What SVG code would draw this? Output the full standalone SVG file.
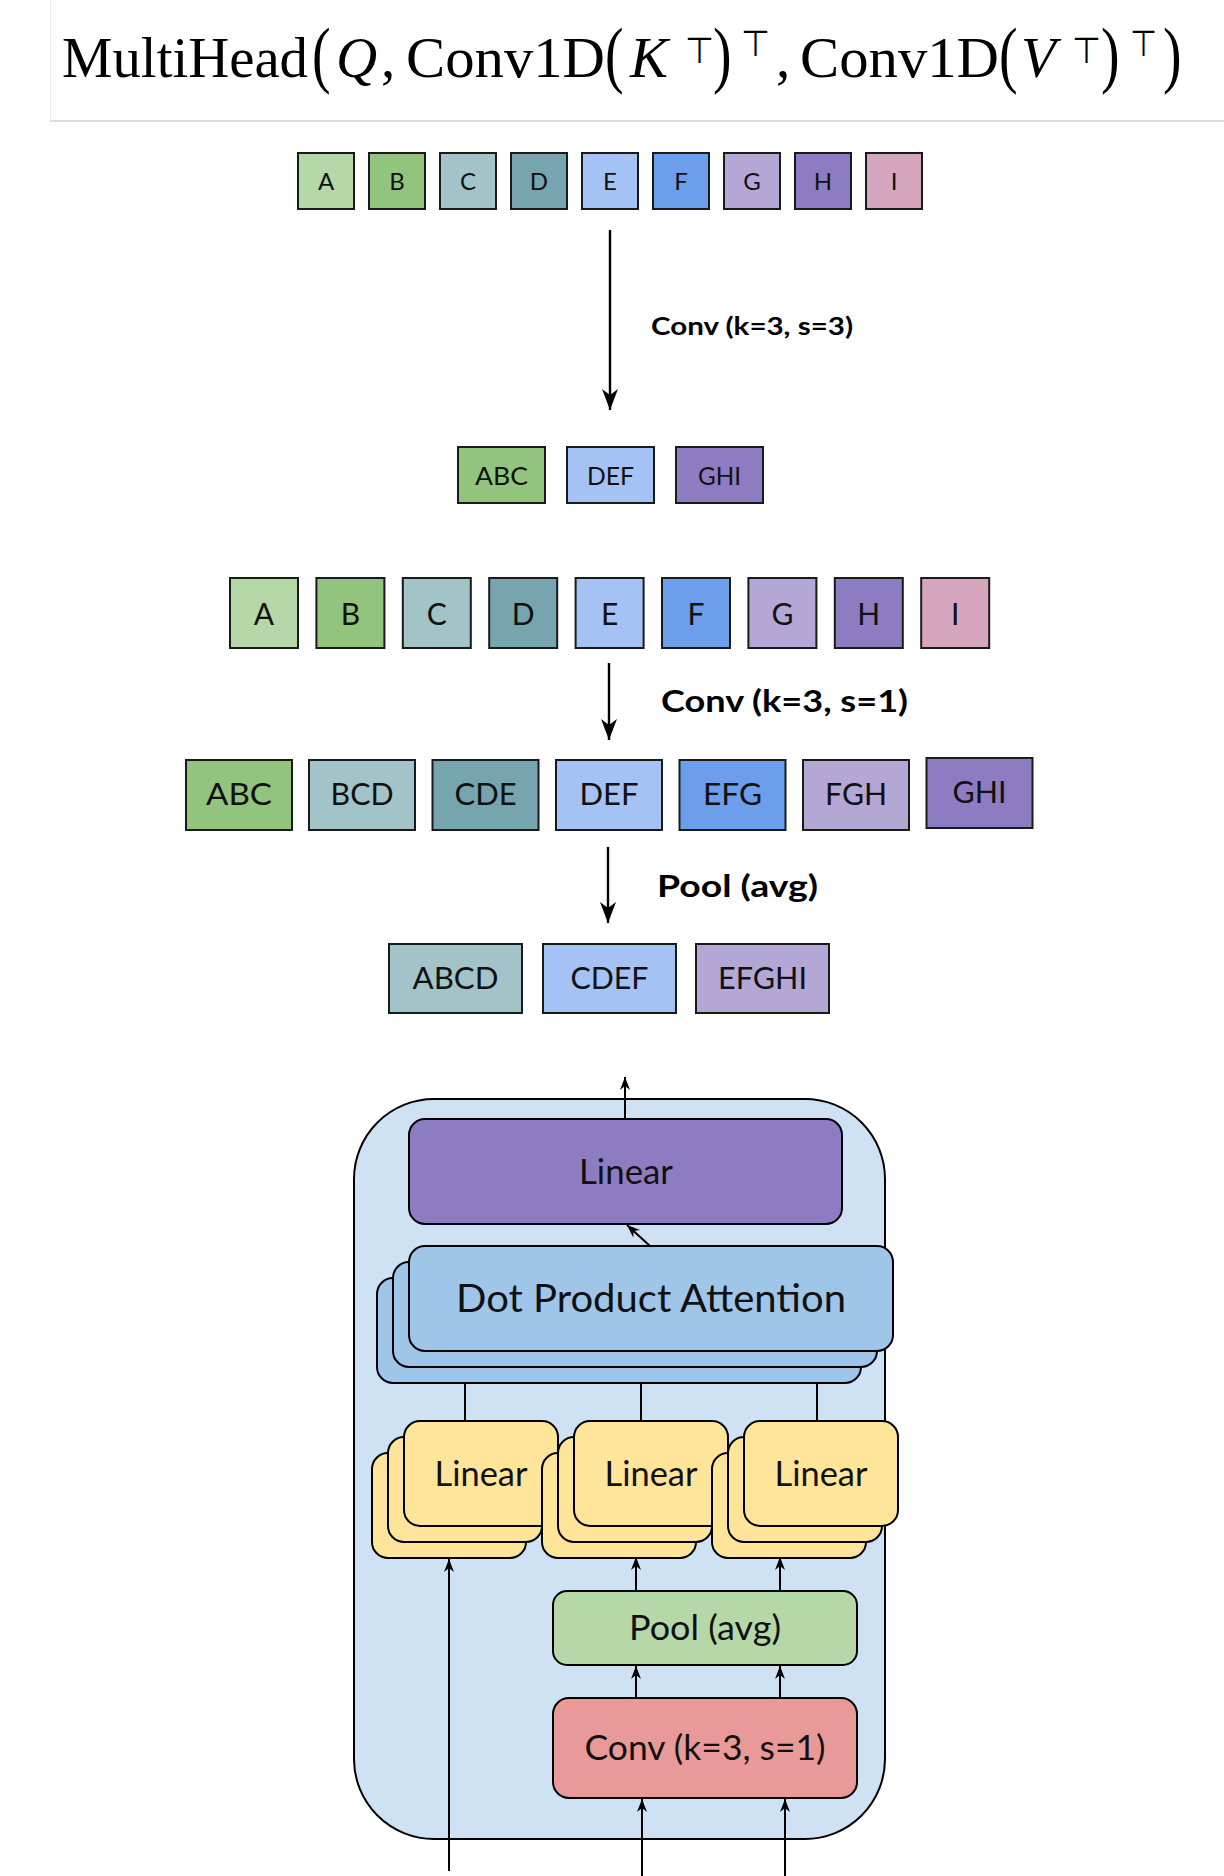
<svg xmlns="http://www.w3.org/2000/svg" width="1224" height="1876" viewBox="0 0 1224 1876">
  <style>
    .math { font-family: "Liberation Serif", "Times New Roman", serif; font-size: 57px; fill: #000; }
    .mi { font-style: italic; }
    .par { font-size: 62px; }
    .top { font-family: "DejaVu Sans", sans-serif; font-size: 36px; }
    .cell { stroke: #1a1a1a; stroke-width: 2; }
    .lbl { font-family: Lato, "Noto Sans", sans-serif; fill: #111; text-anchor: middle; }
    .op { font-family: Lato, "Noto Sans", sans-serif; font-weight: bold; fill: #000; }
    .blk { stroke: #000; stroke-width: 2; }
    .wire { stroke: #000; stroke-width: 2; fill: none; }
    .bigwire { stroke: #000; stroke-width: 2.4; fill: none; }
  </style>
  <defs>
    <marker id="headBig" markerUnits="userSpaceOnUse" markerWidth="26" markerHeight="20" viewBox="-23 -10 26 20" refX="0" refY="0" orient="auto">
      <path d="M0,0 L-21,-8 L-15,0 L-21,8 Z" fill="#000"/>
    </marker>
    <marker id="headSmall" markerUnits="userSpaceOnUse" markerWidth="16" markerHeight="12" viewBox="-15 -6 16 12" refX="0" refY="0" orient="auto">
      <path d="M0,0 L-13,-5 L-9,0 L-13,5 Z" fill="#000"/>
    </marker>
  </defs>

  <rect width="1224" height="1876" fill="#fff"/>

  <!-- formula header -->
  <g id="formula">
    <line x1="50.5" y1="0" x2="50.5" y2="121" stroke="#ececec" stroke-width="1"/>
    <line x1="50" y1="121" x2="1224" y2="121" stroke="#bdbdbd" stroke-width="1.2"/>
    <text class="math" x="62" y="77" textLength="246" lengthAdjust="spacingAndGlyphs">MultiHead</text>
    <text class="math par" transform="translate(312,79) scale(0.9,1.2)">(</text>
    <text class="math mi" x="336" y="77">Q</text>
    <text class="math" x="381" y="77">,</text>
    <text class="math" x="406" y="77" textLength="199" lengthAdjust="spacingAndGlyphs">Conv1D</text>
    <text class="math par" transform="translate(605,79) scale(0.9,1.2)">(</text>
    <text class="math mi" x="630" y="77">K</text>
    <text class="top" x="685" y="63" textLength="29" lengthAdjust="spacingAndGlyphs">⊤</text>
    <text class="math par" transform="translate(713,79) scale(0.9,1.2)">)</text>
    <text class="top" x="741" y="56" textLength="29" lengthAdjust="spacingAndGlyphs">⊤</text>
    <text class="math" x="776" y="77">,</text>
    <text class="math" x="800" y="77" textLength="199" lengthAdjust="spacingAndGlyphs">Conv1D</text>
    <text class="math par" transform="translate(999,79) scale(0.9,1.2)">(</text>
    <text class="math mi" x="1021" y="77">V</text>
    <text class="top" x="1072" y="63" textLength="29" lengthAdjust="spacingAndGlyphs">⊤</text>
    <text class="math par" transform="translate(1101,79) scale(0.9,1.2)">)</text>
    <text class="top" x="1130" y="56" textLength="27" lengthAdjust="spacingAndGlyphs">⊤</text>
    <text class="math par" transform="translate(1163,79) scale(0.9,1.2)">)</text>
  </g>

  <!-- strided convolution example -->
  <g id="seq1">
    <rect class="cell" x="298" y="153" width="56" height="56" fill="#b6d7a8" stroke-width="1.6"/>
    <rect class="cell" x="369" y="153" width="56" height="56" fill="#93c47d" stroke-width="1.6"/>
    <rect class="cell" x="440" y="153" width="56" height="56" fill="#a2c4c9" stroke-width="1.6"/>
    <rect class="cell" x="511" y="153" width="56" height="56" fill="#76a5af" stroke-width="1.6"/>
    <rect class="cell" x="582" y="153" width="56" height="56" fill="#a4c2f4" stroke-width="1.6"/>
    <rect class="cell" x="653" y="153" width="56" height="56" fill="#6d9eeb" stroke-width="1.6"/>
    <rect class="cell" x="724" y="153" width="56" height="56" fill="#b4a7d6" stroke-width="1.6"/>
    <rect class="cell" x="795" y="153" width="56" height="56" fill="#8e7cc3" stroke-width="1.6"/>
    <rect class="cell" x="866" y="153" width="56" height="56" fill="#d5a6bd" stroke-width="1.6"/>
    <g class="lbl" font-size="24">
      <text x="326" y="190">A</text>
      <text x="397" y="190">B</text>
      <text x="468" y="190">C</text>
      <text x="539" y="190">D</text>
      <text x="610" y="190">E</text>
      <text x="681" y="190">F</text>
      <text x="752" y="190">G</text>
      <text x="823" y="190">H</text>
      <text x="894" y="190">I</text>
    </g>
  </g>

  <g id="seq1out">
    <rect class="cell" x="458" y="447" width="87" height="56" fill="#93c47d" stroke-width="1.6"/>
    <rect class="cell" x="567" y="447" width="87" height="56" fill="#a4c2f4" stroke-width="1.6"/>
    <rect class="cell" x="676" y="447" width="87" height="56" fill="#8e7cc3" stroke-width="1.6"/>
    <g class="lbl" font-size="25">
      <text x="501.5" y="485" textLength="53" lengthAdjust="spacingAndGlyphs">ABC</text>
      <text x="610.5" y="485" textLength="47" lengthAdjust="spacingAndGlyphs">DEF</text>
      <text x="719.5" y="485" textLength="43" lengthAdjust="spacingAndGlyphs">GHI</text>
    </g>
  </g>

  <!-- convolution + pooling example -->
  <g id="seq2">
    <rect class="cell" x="230" y="578" width="68" height="70" fill="#b6d7a8"/>
    <rect class="cell" x="316.4" y="578" width="68" height="70" fill="#93c47d"/>
    <rect class="cell" x="402.8" y="578" width="68" height="70" fill="#a2c4c9"/>
    <rect class="cell" x="489.2" y="578" width="68" height="70" fill="#76a5af"/>
    <rect class="cell" x="575.6" y="578" width="68" height="70" fill="#a4c2f4"/>
    <rect class="cell" x="662" y="578" width="68" height="70" fill="#6d9eeb"/>
    <rect class="cell" x="748.4" y="578" width="68" height="70" fill="#b4a7d6"/>
    <rect class="cell" x="834.8" y="578" width="68" height="70" fill="#8e7cc3"/>
    <rect class="cell" x="921.2" y="578" width="68" height="70" fill="#d5a6bd"/>
    <g class="lbl" font-size="30">
      <text x="264" y="625">A</text>
      <text x="350.4" y="625">B</text>
      <text x="436.8" y="625">C</text>
      <text x="523.2" y="625">D</text>
      <text x="609.6" y="625">E</text>
      <text x="696" y="625">F</text>
      <text x="782.4" y="625">G</text>
      <text x="868.8" y="625">H</text>
      <text x="955.2" y="625">I</text>
    </g>
  </g>

  <g id="seq2conv">
    <rect class="cell" x="186" y="760" width="106" height="70" fill="#93c47d"/>
    <rect class="cell" x="309" y="760" width="106" height="70" fill="#a2c4c9"/>
    <rect class="cell" x="432.5" y="760" width="106" height="70" fill="#76a5af"/>
    <rect class="cell" x="556" y="760" width="106" height="70" fill="#a4c2f4"/>
    <rect class="cell" x="679.5" y="760" width="106" height="70" fill="#6d9eeb"/>
    <rect class="cell" x="803" y="760" width="106" height="70" fill="#b4a7d6"/>
    <rect class="cell" x="926.5" y="758" width="106" height="70" fill="#8e7cc3"/>
    <g class="lbl" font-size="31">
      <text x="239" y="805" textLength="66" lengthAdjust="spacingAndGlyphs">ABC</text>
      <text x="362" y="805" textLength="63" lengthAdjust="spacingAndGlyphs">BCD</text>
      <text x="485.5" y="805" textLength="62" lengthAdjust="spacingAndGlyphs">CDE</text>
      <text x="609" y="805" textLength="59" lengthAdjust="spacingAndGlyphs">DEF</text>
      <text x="732.5" y="805" textLength="59" lengthAdjust="spacingAndGlyphs">EFG</text>
      <text x="856" y="805" textLength="62" lengthAdjust="spacingAndGlyphs">FGH</text>
      <text x="979.5" y="803" textLength="54" lengthAdjust="spacingAndGlyphs">GHI</text>
    </g>
  </g>

  <g id="seq2pool">
    <rect class="cell" x="389" y="944" width="133" height="69" fill="#a2c4c9"/>
    <rect class="cell" x="543" y="944" width="133" height="69" fill="#a4c2f4"/>
    <rect class="cell" x="696" y="944" width="133" height="69" fill="#b4a7d6"/>
    <g class="lbl" font-size="31">
      <text x="455.5" y="989" textLength="86" lengthAdjust="spacingAndGlyphs">ABCD</text>
      <text x="609.5" y="989" textLength="78" lengthAdjust="spacingAndGlyphs">CDEF</text>
      <text x="762.5" y="989" textLength="89" lengthAdjust="spacingAndGlyphs">EFGHI</text>
    </g>
  </g>

  <g id="oplabels">
    <text class="op" x="651" y="335" font-size="25" textLength="202" lengthAdjust="spacingAndGlyphs">Conv (k=3, s=3)</text>
    <text class="op" x="661" y="712" font-size="31" textLength="247" lengthAdjust="spacingAndGlyphs">Conv (k=3, s=1)</text>
    <text class="op" x="657" y="897" font-size="30" textLength="161" lengthAdjust="spacingAndGlyphs">Pool (avg)</text>
  </g>

  <!-- attention block -->
  <g id="container">
    <rect class="blk" x="354" y="1099" width="531" height="740" rx="80" ry="80" fill="#cfe2f3"/>
  </g>

  <g id="out-linear">
    <rect class="blk" x="409" y="1119" width="433" height="105" rx="16" fill="#8e7cc3"/>
    <text class="lbl" x="626" y="1184" font-size="34" textLength="94" lengthAdjust="spacingAndGlyphs">Linear</text>
  </g>

  <g id="attention">
    <rect class="blk" x="377" y="1278" width="484" height="105" rx="16" fill="#9fc5e8"/>
    <rect class="blk" x="393" y="1262" width="484" height="105" rx="16" fill="#9fc5e8"/>
    <rect class="blk" x="409" y="1246" width="484" height="105" rx="16" fill="#9fc5e8"/>
    <text class="lbl" x="651" y="1312" font-size="38" textLength="390" lengthAdjust="spacingAndGlyphs">Dot Product Attention</text>
  </g>

  <g id="linear-q">
    <rect class="blk" x="372" y="1453" width="154" height="105" rx="16" fill="#ffe599"/>
    <rect class="blk" x="388" y="1437" width="154" height="105" rx="16" fill="#ffe599"/>
    <rect class="blk" x="404" y="1421" width="154" height="105" rx="16" fill="#ffe599"/>
    <text class="lbl" x="481" y="1486" font-size="34" textLength="93" lengthAdjust="spacingAndGlyphs">Linear</text>
  </g>
  <g id="linear-k">
    <rect class="blk" x="542" y="1453" width="154" height="105" rx="16" fill="#ffe599"/>
    <rect class="blk" x="558" y="1437" width="154" height="105" rx="16" fill="#ffe599"/>
    <rect class="blk" x="574" y="1421" width="154" height="105" rx="16" fill="#ffe599"/>
    <text class="lbl" x="651" y="1486" font-size="34" textLength="93" lengthAdjust="spacingAndGlyphs">Linear</text>
  </g>
  <g id="linear-v">
    <rect class="blk" x="712" y="1453" width="154" height="105" rx="16" fill="#ffe599"/>
    <rect class="blk" x="728" y="1437" width="154" height="105" rx="16" fill="#ffe599"/>
    <rect class="blk" x="744" y="1421" width="154" height="105" rx="16" fill="#ffe599"/>
    <text class="lbl" x="821" y="1486" font-size="34" textLength="93" lengthAdjust="spacingAndGlyphs">Linear</text>
  </g>

  <g id="pool">
    <rect class="blk" x="553" y="1591" width="304" height="74" rx="14" fill="#b6d7a8"/>
    <text class="lbl" x="705" y="1640" font-size="34" textLength="152" lengthAdjust="spacingAndGlyphs">Pool (avg)</text>
  </g>

  <g id="conv">
    <rect class="blk" x="553" y="1698" width="304" height="100" rx="16" fill="#ea9999"/>
    <text class="lbl" x="705" y="1760" font-size="34" textLength="241" lengthAdjust="spacingAndGlyphs">Conv (k=3, s=1)</text>
  </g>

  <!-- connectors -->
  <g id="connectors">
    <line class="bigwire" x1="610" y1="230" x2="610" y2="410" marker-end="url(#headBig)"/>
    <line class="bigwire" x1="609" y1="663" x2="609" y2="740" marker-end="url(#headBig)"/>
    <line class="bigwire" x1="608" y1="847" x2="608" y2="923" marker-end="url(#headBig)"/>

    <line class="wire" x1="625" y1="1119" x2="625" y2="1077" marker-end="url(#headSmall)"/>
    <line class="wire" x1="650" y1="1246" x2="627" y2="1225" marker-end="url(#headSmall)"/>

    <line class="wire" x1="465" y1="1383" x2="465" y2="1421"/>
    <line class="wire" x1="641" y1="1383" x2="641" y2="1421"/>
    <line class="wire" x1="817" y1="1383" x2="817" y2="1421"/>

    <line class="wire" x1="449" y1="1871" x2="449" y2="1559" marker-end="url(#headSmall)"/>
    <line class="wire" x1="636" y1="1591" x2="636" y2="1557" marker-end="url(#headSmall)"/>
    <line class="wire" x1="780" y1="1591" x2="780" y2="1557" marker-end="url(#headSmall)"/>
    <line class="wire" x1="636" y1="1698" x2="636" y2="1666" marker-end="url(#headSmall)"/>
    <line class="wire" x1="780" y1="1698" x2="780" y2="1666" marker-end="url(#headSmall)"/>
    <line class="wire" x1="642" y1="1876" x2="642" y2="1799" marker-end="url(#headSmall)"/>
    <line class="wire" x1="785" y1="1876" x2="785" y2="1799" marker-end="url(#headSmall)"/>
  </g>
</svg>
